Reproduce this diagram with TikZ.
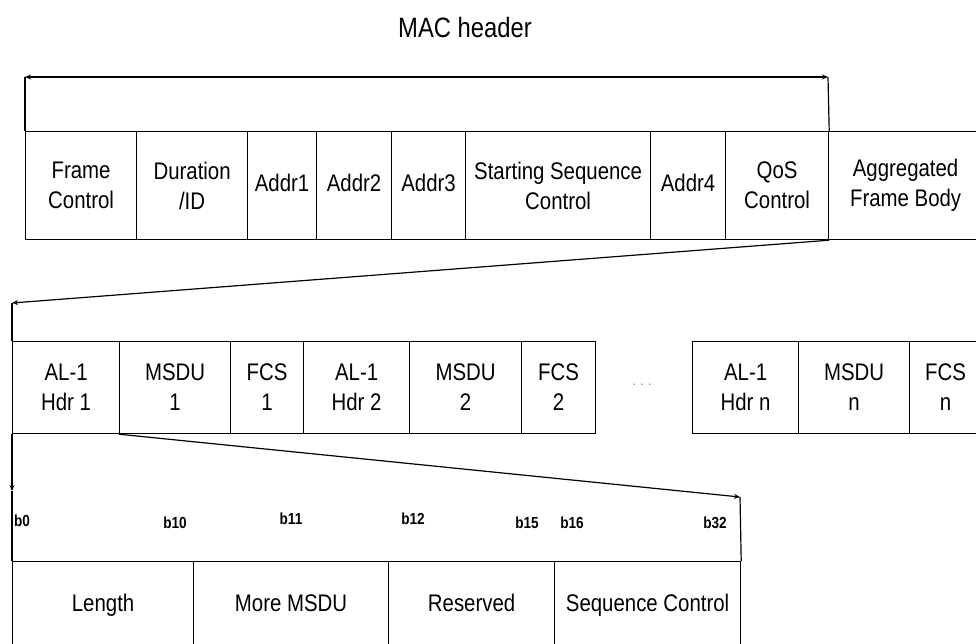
\documentclass[tikz,border=0pt]{standalone}
\usepackage{fontspec}
\setmainfont{Liberation Sans}[FakeStretch=0.85]
\usetikzlibrary{arrows.meta}
\begin{document}
\begin{tikzpicture}[x=1pt,y=-1pt,
  cell/.style={draw, line width=1.2pt, anchor=north west, inner sep=0pt, align=center, font=\fontsize{24}{30}\selectfont},
  oneline/.style={text height=17pt, text depth=5pt},
  bitlab/.style={font=\bfseries\fontsize{16}{17}\selectfont, inner sep=0pt},
  conn/.style={line width=1.2pt},
  tipend/.style={-{Stealth[length=6pt,width=5pt]}},
  tipboth/.style={{Stealth[length=6pt,width=5pt]}-{Stealth[length=6pt,width=5pt]}}
]
\useasboundingbox (0,0) rectangle (976,644);
\clip (0,0) rectangle (976,644);

\node[font=\fontsize{28}{30}\selectfont, inner sep=0pt] (mac) at (465,27) {MAC header};

% top row
\node[cell, minimum width=111pt, minimum height=108pt] (fc)  at (25,131)  {Frame\\Control};
\node[cell, minimum width=111pt, minimum height=108pt] (dur) at (136,131) {Duration\\/ID};
\node[cell, oneline, minimum width=69pt,  minimum height=108pt] (a1)  at (247,131) {Addr1};
\node[cell, oneline, minimum width=75pt,  minimum height=108pt] (a2)  at (316,131) {Addr2};
\node[cell, oneline, minimum width=74pt,  minimum height=108pt] (a3)  at (391,131) {Addr3};
\node[cell, minimum width=185pt, minimum height=108pt] (ssc) at (465,131) {Starting Sequence\\Control};
\node[cell, oneline, minimum width=75pt,  minimum height=108pt] (a4)  at (650,131) {Addr4};
\node[cell, minimum width=103pt, minimum height=108pt] (qos) at (725,131) {QoS\\Control};
\node[cell, minimum width=154pt, minimum height=108pt] (afb) at (828,131) {Aggregated\\Frame Body};

% bracket
\coordinate (mhL) at (25,77);
\coordinate (mhR) at (828,77);
\draw[conn] (fc.north west) -- (mhL);
\draw[conn] (qos.north east) -- (mhR);
\draw[conn,tipboth] (mhL) -- (mhR);

% second row
\node[cell, minimum width=107pt, minimum height=92pt] (h1)  at (12,341)  {AL-1\\Hdr 1};
\node[cell, minimum width=111pt, minimum height=92pt] (m1)  at (119,341) {MSDU\\1};
\node[cell, minimum width=73pt,  minimum height=92pt] (f1)  at (230,341) {FCS\\1};
\node[cell, minimum width=106pt, minimum height=92pt] (h2)  at (303,341) {AL-1\\Hdr 2};
\node[cell, minimum width=112pt, minimum height=92pt] (m2)  at (409,341) {MSDU\\2};
\node[cell, minimum width=74pt,  minimum height=92pt] (f2)  at (521,341) {FCS\\2};
\node[text=gray, font=\fontsize{14}{16}\selectfont, inner sep=0pt] (dots) at (642,385) {. . .};
\node[cell, minimum width=106pt, minimum height=92pt] (hn)  at (692,341) {AL-1\\Hdr n};
\node[cell, minimum width=111pt, minimum height=92pt] (mn)  at (798,341) {MSDU\\n};
\node[cell, minimum width=72pt,  minimum height=92pt] (fn)  at (909,341) {FCS\\n};

\coordinate (c2) at (12,303);
\draw[conn,tipend] (qos.south east) -- (c2);
\draw[conn] (c2) -- (h1.north west);

% third row
\node[cell, oneline, minimum width=181pt, minimum height=88pt] (len) at (12,561)  {Length};
\node[cell, oneline, minimum width=195pt, minimum height=88pt] (mm)  at (193,561) {More MSDU};
\node[cell, oneline, minimum width=166pt, minimum height=88pt] (res) at (388,561) {Reserved};
\node[cell, oneline, minimum width=186pt, minimum height=88pt] (sc)  at (554,561) {Sequence Control};

\coordinate (c3) at (740,497);
\draw[conn,tipend] (m1.south west) -- (c3);
\draw[conn] (c3) -- (sc.north east);
\coordinate (c4) at (12,491);
\draw[conn,tipend] (h1.south west) -- (c4);
\draw[conn] (c4) -- (len.north west);

% bit labels
\node[bitlab] (b0)  at (22,521)  {b0};
\node[bitlab] (b10) at (175,523) {b10};
\node[bitlab] (b11) at (291,519) {b11};
\node[bitlab] (b12) at (413,519) {b12};
\node[bitlab] (b15) at (527,523) {b15};
\node[bitlab] (b16) at (572,523) {b16};
\node[bitlab] (b32) at (715,523) {b32};
\end{tikzpicture}
\end{document}
